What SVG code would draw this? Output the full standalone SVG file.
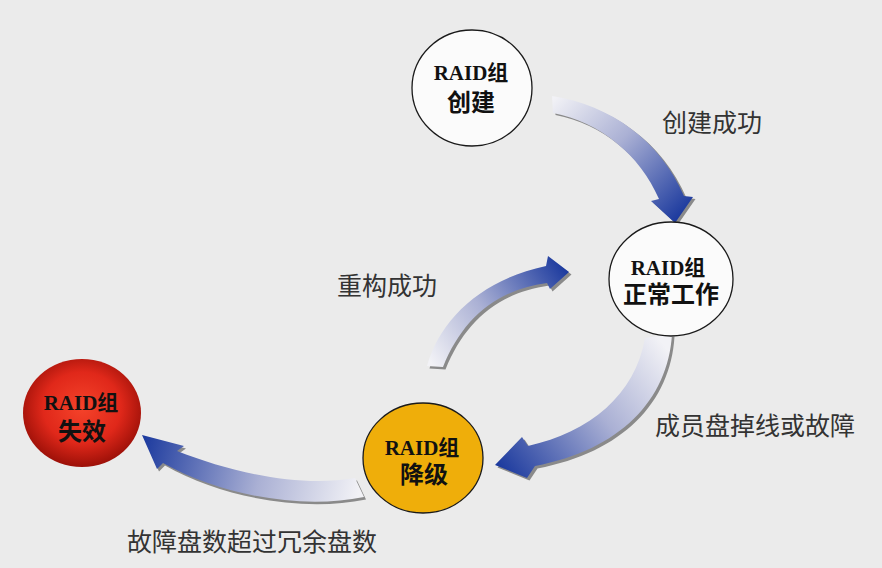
<svg xmlns="http://www.w3.org/2000/svg" width="882" height="568" viewBox="0 0 882 568">
  <defs>
    <style>
      .node { stroke: #1a1a1a; stroke-width: 1.3; }
      .ntext { font-family: "Liberation Serif", "Noto Sans CJK SC", serif; font-weight: bold; fill: #111; text-anchor: middle; }
      .l1 { font-size: 21px; }
      .l2 { font-size: 24px; }
      .label { font-family: "Noto Sans CJK SC", "Liberation Sans", sans-serif; font-size: 25px; fill: #333; }
      .shadow { fill: #8a8a8a; }
    </style>
    <radialGradient id="red" cx="50%" cy="45%" r="55%">
      <stop offset="0" stop-color="#f5432a"/>
      <stop offset="0.6" stop-color="#e0281a"/>
      <stop offset="1" stop-color="#9c1008"/>
    </radialGradient>
    <linearGradient id="g1" gradientUnits="userSpaceOnUse" x1="552" y1="100" x2="675" y2="222">
      <stop offset="0" stop-color="#f2f2f6"/>
      <stop offset="0.45" stop-color="#aab0d4"/>
      <stop offset="1" stop-color="#1c3a9e"/>
    </linearGradient>
    <linearGradient id="g2" gradientUnits="userSpaceOnUse" x1="660" y1="340" x2="497" y2="465">
      <stop offset="0" stop-color="#f2f2f6"/>
      <stop offset="0.45" stop-color="#aab0d4"/>
      <stop offset="1" stop-color="#1c3a9e"/>
    </linearGradient>
    <linearGradient id="g3" gradientUnits="userSpaceOnUse" x1="433" y1="366" x2="568" y2="272">
      <stop offset="0" stop-color="#f2f2f6"/>
      <stop offset="0.45" stop-color="#aab0d4"/>
      <stop offset="1" stop-color="#1c3a9e"/>
    </linearGradient>
    <linearGradient id="g4" gradientUnits="userSpaceOnUse" x1="360" y1="488" x2="143" y2="437">
      <stop offset="0" stop-color="#f2f2f6"/>
      <stop offset="0.45" stop-color="#aab0d4"/>
      <stop offset="1" stop-color="#1c3a9e"/>
    </linearGradient>
  </defs>

  <rect width="882" height="568" fill="#ebebeb"/>

  <g id="connectors">
    <g id="arrow-create">
      <path class="shadow" transform="translate(2.5,2)" d="M552,96 C610,105 660,140 684,196 L693,197 L675,223 L651,201 L659,199 C640,155 600,122 553,113 Z"/>
      <path fill="url(#g1)" d="M552,96 C610,105 660,140 684,196 L693,197 L675,223 L651,201 L659,199 C640,155 600,122 553,113 Z"/>
    </g>
    <g id="arrow-fail">
      <path class="shadow" transform="translate(2.5,2.5)" d="M672,334 C668,400 620,450 535,466 L527,478 L495,465 L522,437 L528,446 C590,432 635,395 645,338 Z"/>
      <path fill="url(#g2)" d="M672,334 C668,400 620,450 535,466 L527,478 L495,465 L522,437 L528,446 C590,432 635,395 645,338 Z"/>
    </g>
    <g id="arrow-rebuild">
      <path class="shadow" transform="translate(2.5,2.5)" d="M427,366 C440,320 480,280 546,266 L548,256 L569,272 L550,289 L547,283 C495,290 462,320 443,367 Z"/>
      <path fill="url(#g3)" d="M427,366 C440,320 480,280 546,266 L548,256 L569,272 L550,289 L547,283 C495,290 462,320 443,367 Z"/>
    </g>
    <g id="arrow-exceed">
      <path class="shadow" transform="translate(2,2.5)" d="M355,478 C300,488 230,472 177,451 L184,446 L142,435 L157,469 L163,463 C220,495 300,510 364,497 Z"/>
      <path fill="url(#g4)" d="M355,478 C300,488 230,472 177,451 L184,446 L142,435 L157,469 L163,463 C220,495 300,510 364,497 Z"/>
    </g>
    <text class="label" x="662" y="132">创建成功</text>
    <text class="label" x="337" y="295">重构成功</text>
    <text class="label" x="655" y="435">成员盘掉线或故障</text>
    <text class="label" x="127" y="551">故障盘数超过冗余盘数</text>
  </g>

  <g id="node-create">
    <ellipse class="node" cx="472" cy="88" rx="60" ry="58" fill="#fbfbfb"/>
    <text class="ntext l1" x="471" y="80">RAID组</text>
    <text class="ntext l2" x="471" y="111">创建</text>
  </g>

  <g id="node-normal">
    <ellipse class="node" cx="671" cy="279" rx="62" ry="57" fill="#fbfbfb"/>
    <text class="ntext l1" x="668" y="275">RAID组</text>
    <text class="ntext l2" x="671" y="303">正常工作</text>
  </g>

  <g id="node-degraded">
    <ellipse class="node" cx="423" cy="458" rx="60" ry="55" fill="#efae0a"/>
    <text class="ntext l1" x="422" y="455">RAID组</text>
    <text class="ntext l2" x="424" y="483">降级</text>
  </g>

  <g id="node-failed">
    <ellipse cx="82" cy="413" rx="59" ry="54" fill="url(#red)"/>
    <text class="ntext l1" x="81" y="410">RAID组</text>
    <text class="ntext l2" x="82" y="440">失效</text>
  </g>
</svg>
